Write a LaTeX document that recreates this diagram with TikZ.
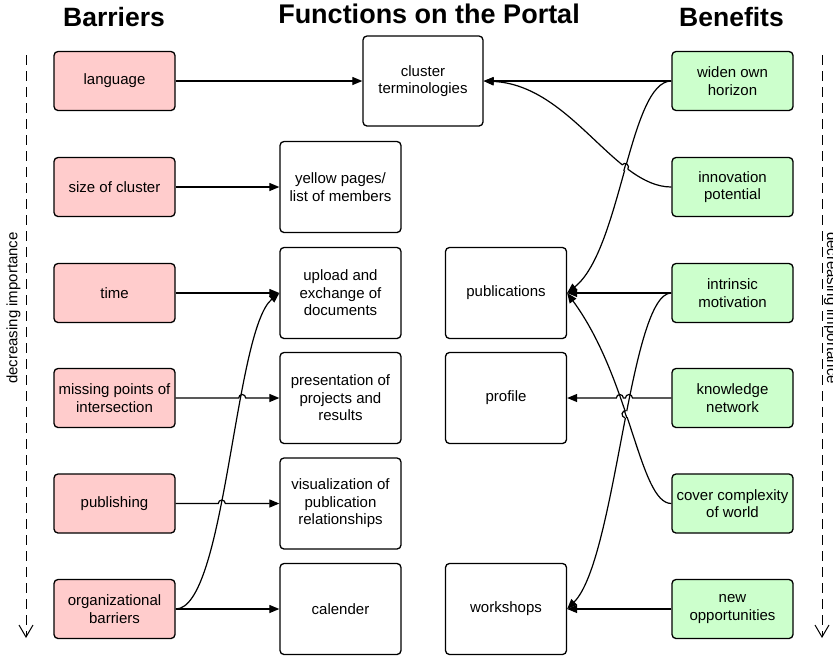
\documentclass[tikz,border=0pt]{standalone}
\usepackage{fontspec}
\setmainfont{Liberation Sans}
\usetikzlibrary{arrows.meta,intersections,calc}
\definecolor{barrier}{HTML}{FFCCCC}
\definecolor{benefit}{HTML}{CCFFCC}
\begin{document}
\begin{tikzpicture}[x=1pt,y=1pt,
  box/.style={draw=black, line width=1.3pt, rounded corners=4pt, minimum width=121pt, align=center, font=\fontsize{15}{17.5}\selectfont, inner sep=2pt},
  bar/.style={box, fill=barrier, minimum height=59pt},
  ben/.style={box, fill=benefit, minimum height=59pt},
  fun/.style={box, fill=white, minimum height=91pt},
  conn/.style={line width=1.2pt, -{Triangle[length=10pt,width=8pt]}},
  plain/.style={line width=1.2pt},
  ttl/.style={anchor=base, font=\fontsize{27}{30}\selectfont\bfseries},
  side/.style={line width=1pt, dash pattern=on 10pt off 6pt},
  vtip/.style={line width=1pt, line join=miter},
  sidetext/.style={font=\fontsize{15}{17}\selectfont},
]
\useasboundingbox (0,0) rectangle (833,-657);

% titles
\node[ttl, font=\fontsize{26.5}{30}\selectfont\bfseries] (tBar) at (114,-26.7) {Barriers};
\node[ttl] (tFun) at (429,-23.3) {Functions on the Portal};
\node[ttl, font=\fontsize{26.5}{30}\selectfont\bfseries] (tBen) at (731.5,-26.7) {Benefits};

% side arrows
\coordinate (lt) at (26,-55);
\coordinate (lb) at (26,-637);
\coordinate (rt) at (822,-55);
\coordinate (rb) at (822,-637);
\draw[side] (lt) -- (lb);
\draw[side] (rt) -- (rb);
\draw[vtip] ($(lb)+(-7,12)$) -- (lb) -- ($(lb)+(7,12)$);
\draw[vtip] ($(rb)+(-7,12)$) -- (rb) -- ($(rb)+(7,12)$);
\node[sidetext, rotate=90] (ltxt) at (13.5,-308) {decreasing importance};
\node[sidetext, rotate=-90] (rtxt) at (831,-308) {decreasing importance};

% barriers
\node[bar] (lang) at (114.5,-81) {language};
\node[bar] (size) at (114.5,-187) {size of cluster};
\node[bar] (time) at (114.5,-293) {time};
\node[bar] (miss) at (114.5,-398) {missing points of\\intersection};
\node[bar] (pub)  at (114.5,-503.5) {publishing};
\node[bar] (org)  at (114.5,-609) {organizational\\barriers};

% functions
\node[fun, minimum width=120pt, minimum height=90pt] (clus) at (423,-81) {cluster\\terminologies};
\node[fun] (yell) at (340.5,-187) {yellow pages/\\list of members};
\node[fun] (upl)  at (340.5,-293) {upload and\\exchange of\\documents};
\node[fun] (pres) at (340.5,-398) {presentation of\\projects and\\results};
\node[fun] (vis)  at (340.5,-503.5) {visualization of\\publication\\relationships};
\node[fun] (cal)  at (340.5,-609) {calender};
\node[fun] (publ) at (506,-293) {publications};
\node[fun] (prof) at (506,-398) {profile};
\node[fun] (work) at (506,-609) {workshops};

% benefits
\node[ben] (wid)  at (732.5,-81) {widen own\\horizon};
\node[ben] (inn)  at (732.5,-187) {innovation\\potential};
\node[ben] (intr) at (732.5,-293) {intrinsic\\motivation};
\node[ben] (know) at (732.5,-398) {knowledge\\network};
\node[ben] (cov)  at (732.5,-503.5) {cover complexity\\of world};
\node[ben] (new)  at (732.5,-609) {new\\opportunities};

% ---- left connectors
\draw[conn] (lang.east) -- (clus.west);
\draw[conn] (size.east) -- (yell.west);
\draw[conn] (time.east) -- (upl.west);
\draw[conn] (org.east) -- (cal.west);
\draw[conn, name path=orgc] (org.east) .. controls +(50,0) and +(-45,-37) .. (upl.west);
\path[name path=hmiss] (miss.east) -- (pres.west);
\path[name path=hpub] (pub.east) -- (vis.west);
\path[name intersections={of=orgc and hmiss, by=Xm}];
\path[name intersections={of=orgc and hpub, by=Xp}];
\draw[conn] (miss.east) -- ($(Xm)+(-3.5,0)$) arc[start angle=180,end angle=0,radius=3.5] -- (pres.west);
\draw[conn] (pub.east) -- ($(Xp)+(-3.5,0)$) arc[start angle=180,end angle=0,radius=3.5] -- (vis.west);

% ---- right connectors
\draw[conn] (wid.west) -- (clus.east);
\draw[conn, name path=widc] (wid.west) .. controls +(-42,0) and +(54,43) .. (publ.east);
\draw[conn, name path=innc] (inn.west) .. controls +(-57,0) and +(87,-4) .. (clus.east);
\path[name intersections={of=widc and innc, by=Xi}];
\fill[white] (Xi) circle (3.6);
\begin{scope}
  \clip (Xi) circle (4.2);
  \draw[plain] (wid.west) .. controls +(-42,0) and +(54,43) .. (publ.east);
\end{scope}
\draw[plain] ($(Xi)+(-35:3.6)$) arc[start angle=-35,end angle=145,radius=3.6];

\draw[conn] (intr.west) -- (publ.east);
\draw[conn] (new.west) -- (work.east);
\draw[conn, name path=covc] (cov.west) .. controls +(-32,0) and +(64,-87) .. (publ.east);
\draw[conn, name path=intc] (intr.west) .. controls +(-42,0) and +(49,49) .. (work.east);
\path[name intersections={of=covc and intc, by=Xc}];
\fill[white] (Xc) circle (3.6);
\begin{scope}
  \clip (Xc) circle (4.2);
  \draw[plain] (cov.west) .. controls +(-32,0) and +(64,-87) .. (publ.east);
\end{scope}
\draw[plain] ($(Xc)+(79:3.6)$) arc[start angle=79,end angle=259,radius=3.6];

\path[name path=hknow] (know.west) -- (prof.east);
\path[name intersections={of=hknow and covc, by=Xk1}];
\path[name intersections={of=hknow and intc, by=Xk2}];
\draw[conn] (know.west) -- ($(Xk2)+(3.5,0)$) arc[start angle=0,end angle=180,radius=3.5]
  -- ($(Xk1)+(3.5,0)$) arc[start angle=0,end angle=180,radius=3.5] -- (prof.east);
\end{tikzpicture}
\end{document}
